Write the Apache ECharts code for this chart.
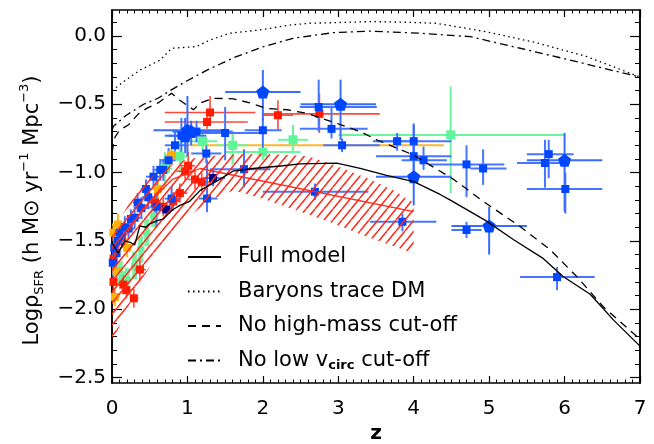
<!DOCTYPE html>
<html><head><meta charset="utf-8">
<script src="https://cdn.jsdelivr.net/npm/echarts@6/dist/echarts.min.js"></script>
<style>html,body{margin:0;padding:0;background:#fff}#c{width:654px;height:444px}</style>
</head><body><div id="c"></div>
<script>
// ---------- tick labels ----------
const xTicks = [0, 1, 2, 3, 4, 5, 6, 7];
const yTicks = [-2.5, -2.0, -1.5, -1.0, -0.5, 0.0];
const yMinorTicks = [-2.5,-2.4,-2.3,-2.2,-2.1,-2.0,-1.9,-1.8,-1.7,-1.6,-1.5,-1.4,-1.3,-1.2,-1.1,-1.0,-0.9,-0.8,-0.7,-0.6,-0.5,-0.4,-0.3,-0.2,-0.1,0.0,0.1];

// ---------- model curves [z, log rho] ----------
const fullModel = [[0,-1.51],[0.08,-1.59],[0.17,-1.50],[0.24,-1.51],[0.30,-1.53],[0.37,-1.39],[0.45,-1.40],[0.50,-1.375],[0.61,-1.35],[0.68,-1.34],[0.75,-1.30],[0.81,-1.27],[0.90,-1.24],[1.03,-1.21],[1.17,-1.13],[1.30,-1.09],[1.43,-1.05],[1.60,-0.99],[1.87,-0.97],[2.27,-0.95],[2.49,-0.936],[2.98,-0.93],[3.29,-0.97],[3.64,-1.02],[4.00,-1.066],[4.35,-1.16],[4.48,-1.20],[4.95,-1.35],[5.32,-1.49],[5.72,-1.63],[5.98,-1.76],[6.34,-1.89],[6.65,-2.08],[7.00,-2.27]];
const baryonsTraceDM = [[0,-0.40],[0.19,-0.32],[0.37,-0.25],[0.64,-0.176],[0.79,-0.09],[1.12,-0.078],[1.30,-0.03],[1.56,0.02],[1.96,0.044],[2.36,0.08],[2.62,0.093],[2.93,0.097],[3.42,0.105],[3.80,0.102],[4.30,0.093],[4.97,0.03],[5.63,-0.05],[6.29,-0.15],[7.00,-0.30]];
const noHighMassCut = [[0,-0.85],[0.04,-0.74],[0.10,-0.69],[0.22,-0.65],[0.35,-0.57],[0.46,-0.53],[0.61,-0.49],[0.79,-0.42],[0.90,-0.47],[1.08,-0.54],[1.17,-0.49],[1.34,-0.456],[1.61,-0.46],[1.83,-0.49],[2.05,-0.53],[2.32,-0.54],[2.58,-0.566],[2.93,-0.63],[3.29,-0.70],[3.51,-0.76],[3.99,-0.87],[4.53,-1.05],[4.92,-1.21],[5.41,-1.395],[5.81,-1.565],[6.16,-1.76],[6.51,-1.98],[7.00,-2.22]];
const noLowVcircCut = [[0,-0.69],[0.02,-0.66],[0.19,-0.58],[0.42,-0.50],[0.61,-0.456],[0.77,-0.40],[0.99,-0.33],[1.26,-0.25],[1.61,-0.16],[2.01,-0.078],[2.40,-0.017],[2.93,0.024],[3.42,0.035],[4.08,0.02],[4.75,-0.005],[5.41,-0.09],[6.07,-0.176],[6.51,-0.236],[7.00,-0.30]];

// ---------- fit band (hatched) and fit line ----------
const bandUpper = [[0,-1.45],[0.2,-1.25],[0.4,-1.09],[0.6,-1.0],[0.8,-0.94],[1.0,-0.90],[1.5,-0.87],[2.0,-0.86],[2.6,-0.88],[2.93,-0.94],[3.38,-1.04],[3.73,-1.13],[4.0,-1.22]];
const bandLower = [[0,-2.25],[0.2,-2.0],[0.4,-1.78],[0.6,-1.6],[0.8,-1.45],[1.0,-1.33],[1.3,-1.2],[1.61,-1.13],[2.05,-1.20],[2.49,-1.285],[2.93,-1.37],[3.38,-1.47],[4.0,-1.59]];
const fitLine = [[0,-1.62],[0.4,-1.27],[0.8,-1.05],[1.17,-0.97],[4.0,-1.285]];

// ---------- observations [z, logrho, zLo, zHi, rhoLo, rhoHi] ----------
const blueSquares = [
 [0.01,-1.66,0,0.05,-1.56,-1.76],[0.03,-1.55,0,0.07,-1.45,-1.65],[0.06,-1.59,0.02,0.10,-1.50,-1.68],
 [0.08,-1.50,0.04,0.12,-1.42,-1.58],[0.10,-1.44,0.05,0.15,-1.36,-1.52],[0.13,-1.47,0.08,0.18,-1.39,-1.55],
 [0.17,-1.40,0.10,0.24,-1.32,-1.48],[0.22,-1.41,0.15,0.30,-1.33,-1.49],[0.25,-1.34,0.20,0.30,-1.27,-1.41],
 [0.30,-1.33,0.20,0.40,-1.25,-1.41],[0.34,-1.22,0.28,0.40,-1.15,-1.29],[0.39,-1.26,0.30,0.50,-1.18,-1.34],
 [0.45,-1.12,0.38,0.52,-1.05,-1.19],[0.48,-1.18,0.40,0.56,-1.10,-1.26],[0.55,-1.03,0.45,0.65,-0.95,-1.11],
 [0.59,-1.25,0.50,0.70,-1.05,-1.40],[0.64,-0.98,0.55,0.75,-0.90,-1.06],[0.68,-0.98,0.60,0.76,-0.90,-1.06],
 [0.75,-0.91,0.65,0.85,-0.82,-1.00],[0.79,-1.19,0.70,0.90,-1.10,-1.28],[0.835,-0.80,0.70,1.00,-0.70,-0.90],
 [0.92,-0.73,0.75,1.10,-0.60,-0.85],[1.12,-0.70,0.85,1.60,-0.62,-0.78],[1.25,-0.86,1.05,1.45,-0.79,-0.93],
 [1.26,-1.19,1.15,1.40,-0.91,-1.29],[1.50,-0.71,1.00,2.00,-0.52,-0.91],[1.75,-0.975,1.30,2.10,-0.83,-1.11],
 [2.00,-0.69,1.76,2.25,-0.60,-0.87],[2.69,-1.14,2.00,3.40,-1.08,-1.20],[2.74,-0.52,2.49,3.51,-0.32,-0.70],
 [2.91,-0.68,2.49,3.39,-0.52,-0.75],[3.05,-0.80,2.80,3.55,-0.75,-0.85],[3.78,-0.77,3.50,4.00,-0.71,-0.84],
 [4.00,-0.77,3.46,4.50,-0.64,-0.90],[4.00,-0.88,3.50,4.50,-0.80,-1.00],[4.13,-0.91,3.84,4.44,-0.81,-0.98],
 [4.70,-0.94,4.20,5.20,-0.80,-1.18],[4.92,-0.97,4.75,5.23,-0.83,-1.09],[5.79,-0.865,5.50,6.12,-0.76,-1.04],
 [5.74,-0.93,5.37,6.07,-0.76,-1.11],[6.01,-1.12,5.50,6.50,-1.00,-1.30],[3.85,-1.36,3.42,4.30,-1.30,-1.43],
 [4.70,-1.42,4.50,4.90,-1.36,-1.48],[5.90,-1.765,5.41,6.40,-1.69,-1.86]
];
const bluePentagons = [
 [2.00,-0.41,1.50,2.50,-0.25,-0.62],[3.03,-0.50,2.50,3.50,-0.32,-0.76],[4.00,-1.03,3.50,4.50,-0.65,-1.24],
 [6.00,-0.91,5.50,6.50,-0.71,-1.285],[5.00,-1.39,4.50,5.50,-1.25,-1.60],[1.00,-0.69,0.55,1.50,-0.44,-0.88],
 [0.97,-0.73,0.70,1.25,-0.60,-0.86],[1.05,-0.70,0.80,1.30,-0.62,-0.80]
];
const navySquares = [[1.34,-1.04,1.20,1.50,-0.98,-1.10],[0.72,-1.27,0.65,0.80,-1.22,-1.32]];
const redSquares = [
 [1.30,-0.56,0.70,1.90,-0.44,-0.63],[1.26,-0.63,0.70,1.80,-0.58,-0.68],[2.20,-0.58,2.00,2.40,-0.47,-0.69],
 [2.75,-0.57,2.00,3.55,-0.42,-0.71],[1.01,-0.95,0.90,1.10,-0.85,-1.03],[0.97,-0.99,0.85,1.10,-0.92,-1.06],
 [1.10,-1.05,1.00,1.20,-0.98,-1.12],[1.19,-1.07,1.10,1.30,-1.00,-1.14],[0.90,-1.15,0.80,1.00,-1.08,-1.22],
 [0.57,-1.22,0.50,0.65,-1.15,-1.29],[0.68,-1.25,0.60,0.75,-1.18,-1.32],[0.81,-1.21,0.75,0.90,-1.15,-1.28],
 [0.37,-1.71,0.30,0.45,-1.63,-1.79],[0.15,-1.82,0.10,0.20,-1.75,-1.89],[0.19,-1.86,0.15,0.25,-1.80,-1.92],
 [0.29,-1.92,0.25,0.35,-1.85,-1.99],[0.02,-1.80,0,0.05,-1.72,-1.88],[0.02,-1.63,0,0.05,-1.55,-1.70]
];
const greenSquares = [
 [4.49,-0.724,3.00,6.00,-0.37,-1.15],[2.40,-0.76,2.20,2.60,-0.65,-0.86],[2.00,-0.85,1.50,2.50,-0.76,-0.91],
 [1.60,-0.80,1.40,1.80,-0.70,-0.94],[1.20,-0.77,0.90,1.40,-0.70,-0.85],[0.90,-0.88,0.80,1.00,-0.75,-1.00],
 [0.70,-0.97,0.60,0.80,-0.85,-1.10]
];
const greenLowZ = [
 [0.11,-1.74,0.05,0.20,-1.65,-1.83],[0.20,-1.78,0.15,0.25,-1.70,-1.86],[0.30,-1.68,0.25,0.35,-1.58,-1.78],
 [0.38,-1.56,0.33,0.43,-1.46,-1.66],[0.46,-1.44,0.41,0.51,-1.34,-1.54],[0.55,-1.32,0.50,0.60,-1.24,-1.40]
];
const orangeSquares = [
 [1.60,-0.80,1.00,4.40,-0.70,-0.94],[0.79,-0.87,0.70,0.90,-0.80,-0.95],[0.61,-1.12,0.50,0.70,-1.05,-1.20],
 [0.08,-1.38,0.00,0.15,-1.30,-1.45],[0.02,-1.44,0.00,0.10,-1.38,-1.50],[0.04,-1.91,0.00,0.10,-1.85,-1.98],
 [0.06,-1.72,0.00,0.12,-1.65,-1.80],[0.20,-1.55,0.15,0.25,-1.48,-1.62]
];

// ---------- rendering ----------
const FONT = 'DejaVu Sans';
const PENT = 'path://M0,-10 L9.51,-3.09 L5.88,8.09 L-5.88,8.09 L-9.51,-3.09 Z';

function errSeries(data, color, width, z) {
  return {
    type: 'custom', xAxisIndex: 0, yAxisIndex: 0, clip: true, z: z || 2, silent: true,
    encode: {x: 0, y: 1},
    data: data,
    renderItem: function (params, api) {
      const zc = api.value(0), v = api.value(1);
      const a = api.coord([api.value(2), v]), b = api.coord([api.value(3), v]);
      const c = api.coord([zc, api.value(4)]), d = api.coord([zc, api.value(5)]);
      return {type: 'group', children: [
        {type: 'line', shape: {x1: a[0], y1: a[1], x2: b[0], y2: b[1]}, style: {stroke: color, lineWidth: width}},
        {type: 'line', shape: {x1: c[0], y1: c[1], x2: d[0], y2: d[1]}, style: {stroke: color, lineWidth: width}}
      ]};
    }
  };
}
function markSeries(data, color, symbol, size) {
  return {type: 'scatter', xAxisIndex: 0, yAxisIndex: 0, z: 3, silent: true, symbol: symbol, symbolSize: size,
    itemStyle: {color: color, opacity: 1}, data: data.map(d => [d[0], d[1]])};
}
function hatchPattern() {
  const w = 9, h = 11;
  const c = document.createElement('canvas'); c.width = w; c.height = h;
  const g = c.getContext('2d');
  g.strokeStyle = '#ff2a1a'; g.lineWidth = 1.5;
  g.beginPath();
  for (const s of [-w, 0, w]) { g.moveTo(s, h); g.lineTo(s + w, 0); }
  g.stroke();
  return c;
}
const pat = {image: hatchPattern(), repeat: 'repeat'};

const axisLineStyle = {color: '#000', width: 1.5};
const modelLine = (name, data, type) => ({
  name: name, type: 'line', xAxisIndex: 0, yAxisIndex: 0, data: data, symbol: 'none', z: 6, silent: true,
  lineStyle: {color: '#000', width: 1.3, type: type}, itemStyle: {color: '#000'}
});

const chart = echarts.init(document.getElementById('c'), null, {renderer: 'canvas'});
chart.setOption({
  animation: false,
  backgroundColor: '#fff',
  grid: [
    {left: 112, right: 14, top: 10, bottom: 61, containLabel: false, outerBoundsMode: 'none'},
    {left: 112, right: 14, top: 10, bottom: 61, containLabel: false, outerBoundsMode: 'none'}
  ],
  xAxis: [
    {gridIndex: 0, type: 'value', min: 0, max: 7, interval: 1, position: 'bottom',
     axisLine: {onZero: false, lineStyle: axisLineStyle},
     axisTick: {inside: true, length: 7, lineStyle: {color: '#000', width: 1.2}},
     minorTick: {show: true, splitNumber: 10, length: 3.5, lineStyle: {color: '#000', width: 1}},
     splitLine: {show: false},
     axisLabel: {fontFamily: FONT, fontSize: 20, color: '#000', margin: 16,
       formatter: v => String(xTicks[xTicks.indexOf(v)])},
     name: 'z', nameLocation: 'middle', nameGap: 41,
     nameTextStyle: {fontFamily: FONT, fontSize: 20, color: '#000', fontWeight: 'bold'}},
    {gridIndex: 0, type: 'value', min: 0, max: 7, interval: 1, position: 'top',
     axisLine: {onZero: false, lineStyle: axisLineStyle},
     axisTick: {inside: true, length: 7, lineStyle: {color: '#000', width: 1.2}},
     minorTick: {show: true, splitNumber: 10, length: 3.5, lineStyle: {color: '#000', width: 1}},
     splitLine: {show: false}, axisLabel: {show: false}},
    {gridIndex: 1, type: 'value', min: 0, max: 7, show: false}
  ],
  yAxis: [
    {gridIndex: 0, type: 'value', min: -2.54, max: 0.19, position: 'left',
     axisLine: {show: true, onZero: false, lineStyle: axisLineStyle},
     axisTick: {show: true, inside: true, length: 10, customValues: yTicks, lineStyle: {color: '#000', width: 1.2}},
     splitLine: {show: false},
     axisLabel: {customValues: yTicks, fontFamily: FONT, fontSize: 20, color: '#000', margin: 6,
       formatter: v => (Math.abs(v) < 1e-9 ? '0.0' : (v < 0 ? '\u2212' : '') + Math.abs(v).toFixed(1))},
     name: 'Log{g|\u03C1}{sub|SFR} (h M{g|\u2299} yr{sup|\u22121} Mpc{sup|\u22123})',
     nameLocation: 'middle', nameGap: 64, nameRotate: 90,
     nameTextStyle: {fontFamily: FONT, fontSize: 21, color: '#000', lineHeight: 28, padding: [0, 28, 0, 0],
       rich: {
         g: {fontFamily: FONT, fontSize: 21, color: '#000', lineHeight: 28},
         sub: {fontFamily: FONT, fontSize: 13, color: '#000', verticalAlign: 'bottom', lineHeight: 16},
         sup: {fontFamily: FONT, fontSize: 13, color: '#000', verticalAlign: 'top', lineHeight: 16}
       }}},
    {gridIndex: 0, type: 'value', min: -2.54, max: 0.19, position: 'right',
     axisLine: {show: true, onZero: false, lineStyle: axisLineStyle},
     axisTick: {show: true, inside: true, length: 10, customValues: yTicks, lineStyle: {color: '#000', width: 1.2}},
     splitLine: {show: false}, axisLabel: {show: false}},
    {gridIndex: 1, type: 'value', min: -2.54, max: 0.19, position: 'left',
     axisLine: {show: true, onZero: false, lineStyle: axisLineStyle},
     axisTick: {show: true, inside: true, length: 5, customValues: yMinorTicks, lineStyle: {color: '#000', width: 1}},
     splitLine: {show: false}, axisLabel: {show: false}},
    {gridIndex: 1, type: 'value', min: -2.54, max: 0.19, position: 'right',
     axisLine: {show: true, onZero: false, lineStyle: axisLineStyle},
     axisTick: {show: true, inside: true, length: 5, customValues: yMinorTicks, lineStyle: {color: '#000', width: 1}},
     splitLine: {show: false}, axisLabel: {show: false}}
  ],
  legend: {
    data: ['Full model', 'Baryons trace DM', 'No high-mass cut-off', 'No low vcirc cut-off'],
    orient: 'vertical', left: 187, top: 245, padding: 0, itemGap: 10.5, itemWidth: 33, itemHeight: 14,
    selectedMode: false,
    itemStyle: {opacity: 0},
    formatter: n => n === 'No low vcirc cut-off' ? 'No low v{sub|circ} cut-off' : n,
    textStyle: {fontFamily: FONT, fontSize: 21, color: '#000', lineHeight: 24, padding: [0, 0, 0, 12],
      rich: {sub: {fontFamily: FONT, fontSize: 13, fontWeight: 'bold', color: '#000', verticalAlign: 'bottom', lineHeight: 14}}}
  },
  series: [
    errSeries(orangeSquares, '#ffb72e', 2),
    errSeries(greenSquares, '#6cf5a0', 2),
    errSeries(greenLowZ, '#7af0a6', 5),
    errSeries(redSquares, '#ff4a3a', 1.6),
    errSeries(blueSquares, '#4676ff', 2),
    errSeries(bluePentagons, '#3a6cff', 2),
    errSeries(navySquares, '#2040ff', 1.5),
    markSeries(orangeSquares, '#ffb000', 'rect', 8),
    markSeries(greenSquares, '#5ff59a', 'rect', 9),
    markSeries(greenLowZ, '#66f0a0', 'rect', 6),
    markSeries(redSquares, '#ff1a00', 'rect', 8),
    markSeries(blueSquares, '#0046ff', 'rect', 8),
    markSeries(bluePentagons, '#0046ff', PENT, 13),
    markSeries(navySquares, '#00008c', 'rect', 8),
    {type: 'custom', xAxisIndex: 0, yAxisIndex: 0, clip: true, z: 4, silent: true,
     data: [[2, -1.2]], encode: {x: 0, y: 1},
     renderItem: function (params, api) {
       const pts = bandUpper.concat(bandLower.slice().reverse()).map(p => api.coord(p));
       return {type: 'polygon', shape: {points: pts}, style: {fill: pat, stroke: null}};
     }},
    {type: 'line', xAxisIndex: 0, yAxisIndex: 0, data: fitLine, symbol: 'none', z: 5, silent: true,
     lineStyle: {color: '#ff2a1a', width: 1.3}},
    modelLine('Full model', fullModel, 'solid'),
    modelLine('Baryons trace DM', baryonsTraceDM, [1.5, 3.5]),
    modelLine('No high-mass cut-off', noHighMassCut, [8, 6]),
    modelLine('No low vcirc cut-off', noLowVcircCut, [8, 4, 2, 4])
  ]
});
</script></body></html>
